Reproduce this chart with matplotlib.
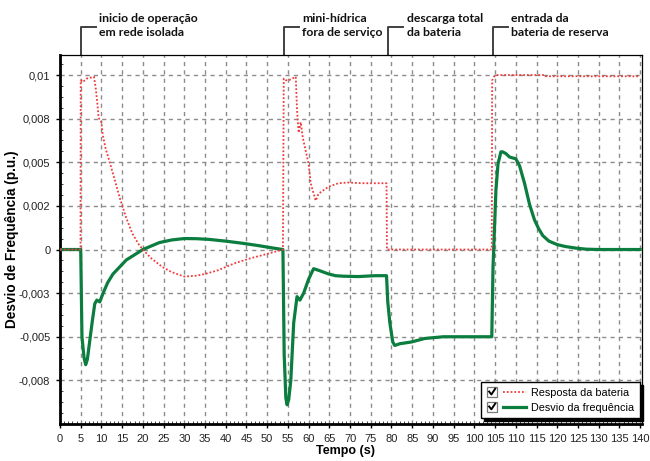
import matplotlib
matplotlib.use("Agg")
import matplotlib.pyplot as plt
from matplotlib.lines import Line2D
from matplotlib.patches import Rectangle
from matplotlib.legend_handler import HandlerLine2D
from matplotlib.ticker import MultipleLocator, FixedLocator
import matplotlib.transforms as mtransforms

# Frequency deviation (p.u.)
t_freq = [0, 5.0, 5.3, 5.8, 6.2, 6.6, 7.2, 7.8, 8.4, 8.9, 9.6, 10.4, 11.5, 12.8,
          14.4, 16, 18, 20, 22, 24, 27, 30, 33, 36, 40, 44, 48, 51, 53.8,
          54.1, 54.5, 54.8, 55.2, 55.7, 56.4, 57.2, 57.9, 58.8, 60.0, 61.2,
          62.5, 64.8, 66.5, 68.4, 72, 76, 78.8,
          79.1, 79.6, 80.3, 80.8, 82, 84.8, 88, 92.5, 98, 104.2,
          104.5, 105.2, 105.7, 106.4, 106.8, 107.6, 108.5, 110, 110.9, 112.1,
          113.3, 114.5, 115.5, 116.5, 118, 120, 122, 124.5, 127, 130, 140]
freq = [0, 0, -0.0050, -0.0062, -0.0066, -0.0063, -0.0052, -0.0041, -0.0031,
        -0.0029, -0.0030, -0.0025, -0.0019, -0.0014, -0.0010, -0.0006,
        -0.0003, 0.0, 0.0002, 0.0004, 0.00055, 0.00063, 0.00062, 0.00058,
        0.00048, 0.00036, 0.00022, 0.0001, 0.0,
        -0.0060, -0.0085, -0.0089, -0.0086, -0.0075, -0.0042, -0.0027,
        -0.0029, -0.0025, -0.0017, -0.0011, -0.0012, -0.0014, -0.0015,
        -0.00153, -0.00155, -0.0015, -0.0015,
        -0.0030, -0.0042, -0.0053, -0.0055, -0.0054, -0.0053, -0.0051,
        -0.0050, -0.0050, -0.0050,
        -0.0010, 0.0034, 0.0049, 0.0056, 0.0056, 0.0055, 0.0053, 0.0052,
        0.0048, 0.0038, 0.0026, 0.0017, 0.0012, 0.0008, 0.00048, 0.00028,
        0.00017, 0.00008, 0.00002, 0.0, 0.0]

# Battery response (p.u.)
t_bat = [0, 4.95, 5.0, 5.5, 6.5, 8.2, 8.6, 9.0, 9.3, 9.6, 10.0, 10.3, 11, 12,
         13.2, 14.5, 16, 17.5, 19, 20, 22, 24.7, 27, 30, 33, 35, 38, 42, 46,
         50, 53.8,
         54.0, 54.5, 55.2, 56.9, 57.2, 57.6, 58.1, 58.6, 60.0, 60.5, 61.7,
         62.4, 64.8, 67.2, 69.6, 73, 76.8, 78.8,
         78.9, 104.2, 104.3, 104.7, 105.2, 117, 117.2, 140]
bat = [0, 0, 0.0097, 0.0096, 0.0098, 0.0099, 0.0093, 0.0084, 0.0076,
       0.0074, 0.0073, 0.0066, 0.0058, 0.0050, 0.0040, 0.0029, 0.0018,
       0.0009, 0.0003, 0.0, -0.0005, -0.0010, -0.0013, -0.00155, -0.0015,
       -0.0014, -0.0012, -0.0008, -0.0005, -0.00025, 0.0,
       0.0098, 0.0097, 0.0097, 0.0099, 0.0080, 0.0067, 0.0073, 0.0064,
       0.0049, 0.0038, 0.0028, 0.0032, 0.0036, 0.0038, 0.00384, 0.0038,
       0.0038, 0.0038,
       0.0, 0.0, 0.0097, 0.0099, 0.0100, 0.0100, 0.00993, 0.00993]

y_ticks = [0.01, 0.0075, 0.005, 0.0025, 0, -0.0025, -0.005, -0.0075]
y_tick_labels = ["0,01", "0,008", "0,005", "0,002", "0", "-0,003", "-0,005", "-0,008"]
x_ticks = list(range(0, 141, 5))

events = [(5.0, "inicio de operação\nem rede isolada"),
          (54.0, "mini-hídrica\nfora de serviço"),
          (79.2, "descarga total\nda bateria"),
          (104.4, "entrada da\nbateria de reserva")]

red = "#f23a3a"
green = "#0b7d3f"


class CheckboxLine(HandlerLine2D):
    # legend handle: small ticked checkbox followed by the line sample
    def create_artists(self, legend, orig_handle, xdescent, ydescent,
                       width, height, fontsize, trans):
        x0 = -xdescent
        yc = height / 2 - ydescent
        s = 7.5
        box = Rectangle((x0, yc - s / 2), s, s, facecolor="white",
                        edgecolor="#7a7a7a", linewidth=0.9, transform=trans)
        tick = Line2D([x0 + 1.6, x0 + 3.2, x0 + 6.0],
                      [yc + 0.3, yc - 1.8, yc + 2.4],
                      color="black", linewidth=1.4, transform=trans)
        line = Line2D([x0 + s + 4, x0 + width], [yc, yc])
        line.update_from(orig_handle)
        line.set_transform(trans)
        return [box, tick, line]


fig = plt.figure(figsize=(6.5, 4.61), dpi=100)
ax = fig.add_axes([0.0923, 0.0803, 0.8957, 0.8004])

ax.plot(t_bat, bat, color=red, linestyle=(0, (1, 1.1)), linewidth=1.3,
        label="Resposta da bateria", zorder=4)
ax.plot(t_freq, freq, color=green, linewidth=2.3,
        label="Desvio da frequência", zorder=3)

ax.set_xlim(0, 140.5)
ax.set_ylim(-0.01, 0.01115)
ax.xaxis.set_major_locator(FixedLocator(x_ticks))
ax.xaxis.set_minor_locator(MultipleLocator(1))
ax.yaxis.set_major_locator(FixedLocator(y_ticks))
ax.set_yticklabels(y_tick_labels)
ax.yaxis.set_minor_locator(MultipleLocator(0.000625))

ax.grid(True, which="major", color="#8c8c8c", linestyle=(0, (3, 3)), linewidth=1)
ax.set_axisbelow(True)

for lab in ax.get_xticklabels() + ax.get_yticklabels():
    lab.set_fontfamily("Liberation Sans")
    lab.set_fontsize(8)
    lab.set_color("#222222")
ax.tick_params(which="major", direction="out", length=3, width=1, pad=4)
ax.tick_params(which="minor", direction="in", length=2.2, width=0.7,
               color="#444444")

for side in ["left", "bottom"]:
    ax.spines[side].set_linewidth(2)
for side in ["top", "right"]:
    ax.spines[side].set_linewidth(0.9)

ax.set_xlabel("Tempo (s)", fontfamily="Liberation Sans", fontsize=9,
              fontweight="bold")
ax.set_ylabel("Desvio de Frequência (p.u.)", fontfamily="Liberation Sans",
              fontsize=9.8, fontweight="bold")
ax.xaxis.set_label_coords(0.49, -0.058)
ax.yaxis.set_label_coords(-0.07, 0.501)

# event markers above the plot
trans = mtransforms.blended_transform_factory(ax.transData, ax.transAxes)
for t0, txt in events:
    ax.plot([t0, t0, t0 + 3.6], [1.0, 1.076, 1.076], color="#404040",
            linewidth=1.4, transform=trans, clip_on=False)
    ax.text(t0 + 4.5, 1.08, txt, transform=trans, ha="left", va="center",
            fontfamily="Lato", fontsize=8.8, fontweight="bold",
            linespacing=1.3, color="#111111")

leg = ax.legend(loc="lower right", bbox_to_anchor=(0.996, 0.016),
                borderaxespad=0, fancybox=False, shadow={"color": "black", "alpha": 1},
                framealpha=1, edgecolor="black", handlelength=3.6,
                handletextpad=0.5, labelspacing=0.45, borderpad=0.5,
                prop={"family": "Liberation Sans", "size": 7.8},
                handler_map={Line2D: CheckboxLine()})
leg.get_frame().set_linewidth(1.0)

fig.savefig("out.png", dpi=100)
